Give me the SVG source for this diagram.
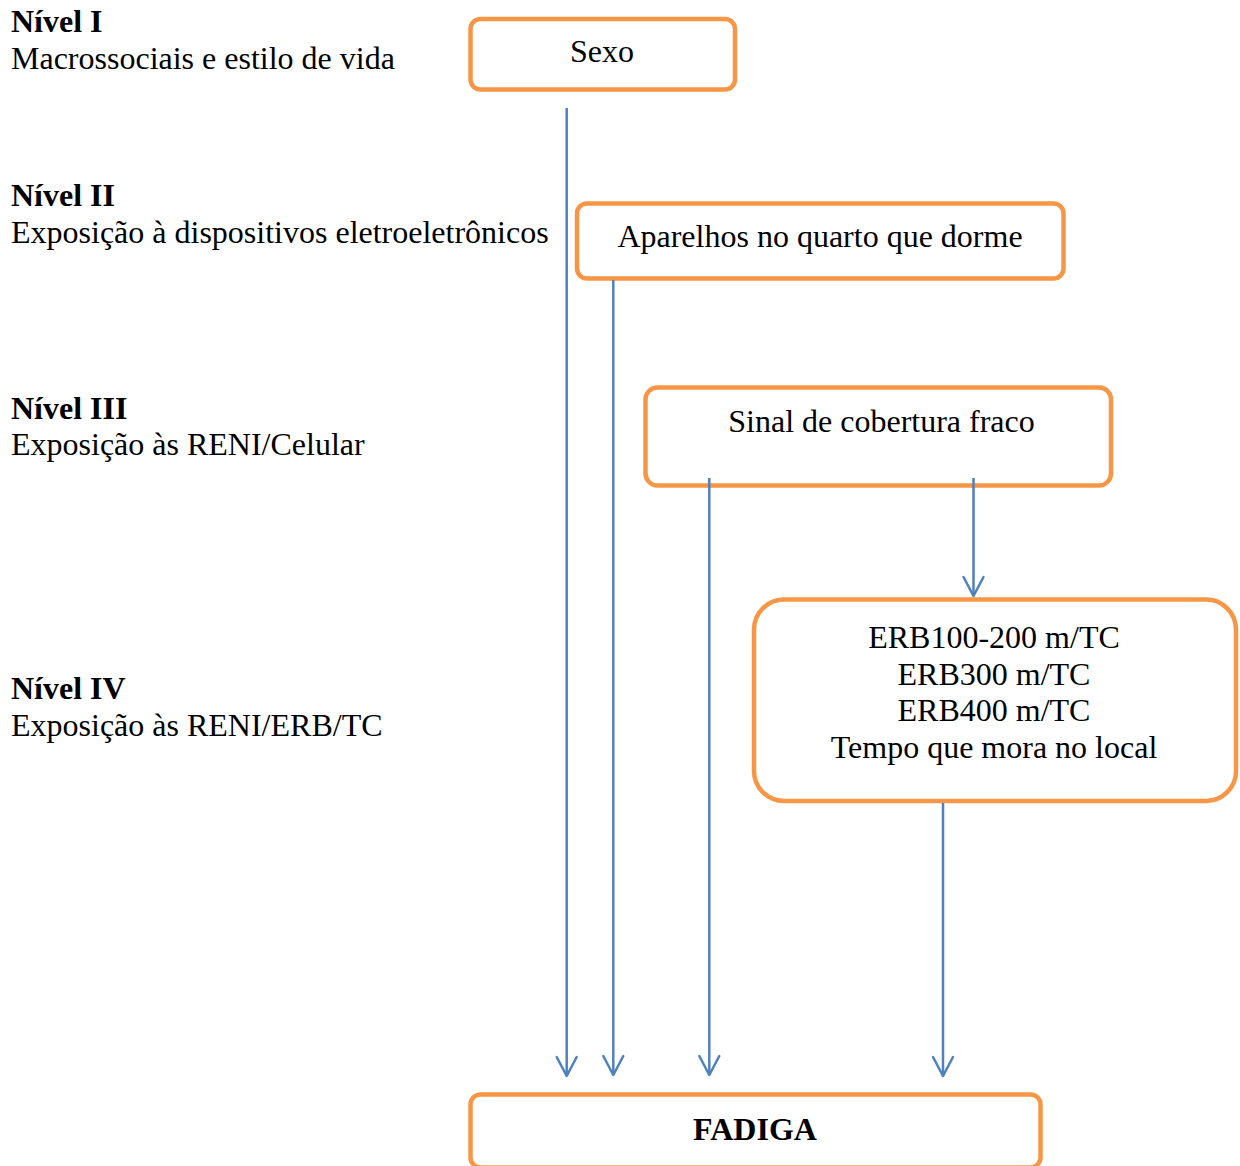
<svg xmlns="http://www.w3.org/2000/svg" width="1240" height="1166" viewBox="0 0 1240 1166">
  <style>
    text { font-family: "Liberation Serif", "Times New Roman", serif; font-size: 32px; fill: #000; }
    .b { font-weight: bold; }
    .c { text-anchor: middle; }
    .box { fill: #fff; stroke: #F79646; stroke-width: 4.5; }
    .link { fill: none; stroke: #4F81BD; stroke-width: 2.5; }
  </style>
  <defs>
    <marker id="open-arrow" markerUnits="userSpaceOnUse" markerWidth="26" markerHeight="26" viewBox="-23 -13 26 26" refX="0" refY="0" orient="auto">
      <path d="M-19,-10 L0,0 L-19,10" fill="none" stroke="#4F81BD" stroke-width="2.5" stroke-linecap="round" stroke-linejoin="round"/>
    </marker>
  </defs>

  <!-- Level labels -->
  <g id="levels">
    <g id="level-1">
      <text x="11" y="32" class="b">Nível I</text>
      <text x="11" y="69">Macrossociais e estilo de vida</text>
    </g>
    <g id="level-2">
      <text x="11" y="206" class="b">Nível II</text>
      <text x="11" y="243">Exposição à dispositivos eletroeletrônicos</text>
    </g>
    <g id="level-3">
      <text x="11" y="419" class="b">Nível III</text>
      <text x="11" y="455">Exposição às RENI/Celular</text>
    </g>
    <g id="level-4">
      <text x="11" y="699" class="b">Nível IV</text>
      <text x="11" y="736">Exposição às RENI/ERB/TC</text>
    </g>
  </g>

  <!-- Nodes -->
  <g id="sexo">
    <rect class="box" x="470.5" y="19" width="264.5" height="70.5" rx="10"/>
    <text x="602" y="62" class="c">Sexo</text>
  </g>
  <g id="aparelhos">
    <rect class="box" x="577" y="203.5" width="486.5" height="75" rx="10"/>
    <text x="820" y="247" class="c">Aparelhos no quarto que dorme</text>
  </g>
  <g id="sinal">
    <rect class="box" x="645.5" y="387.5" width="465.5" height="98" rx="12"/>
    <text x="881.5" y="432" class="c">Sinal de cobertura fraco</text>
  </g>
  <g id="erb">
    <rect class="box" x="754" y="599.5" width="482" height="201.5" rx="30"/>
    <text x="994" y="648" class="c">ERB100-200 m/TC</text>
    <text x="994" y="685" class="c">ERB300 m/TC</text>
    <text x="994" y="721" class="c">ERB400 m/TC</text>
    <text x="994" y="757.5" class="c">Tempo que mora no local</text>
  </g>
  <g id="fadiga">
    <rect class="box" x="470.5" y="1094.5" width="570" height="73" rx="10"/>
    <text x="755" y="1139.5" class="c b">FADIGA</text>
  </g>

  <!-- Connectors -->
  <g id="connectors">
    <line class="link" x1="566.7" y1="108" x2="566.7" y2="1076" marker-end="url(#open-arrow)"/>
    <line class="link" x1="613.3" y1="280" x2="613.3" y2="1075" marker-end="url(#open-arrow)"/>
    <line class="link" x1="709.3" y1="478" x2="709.3" y2="1075" marker-end="url(#open-arrow)"/>
    <line class="link" x1="973.5" y1="478" x2="973.5" y2="596" marker-end="url(#open-arrow)"/>
    <line class="link" x1="943" y1="803" x2="943" y2="1076" marker-end="url(#open-arrow)"/>
  </g>
</svg>
